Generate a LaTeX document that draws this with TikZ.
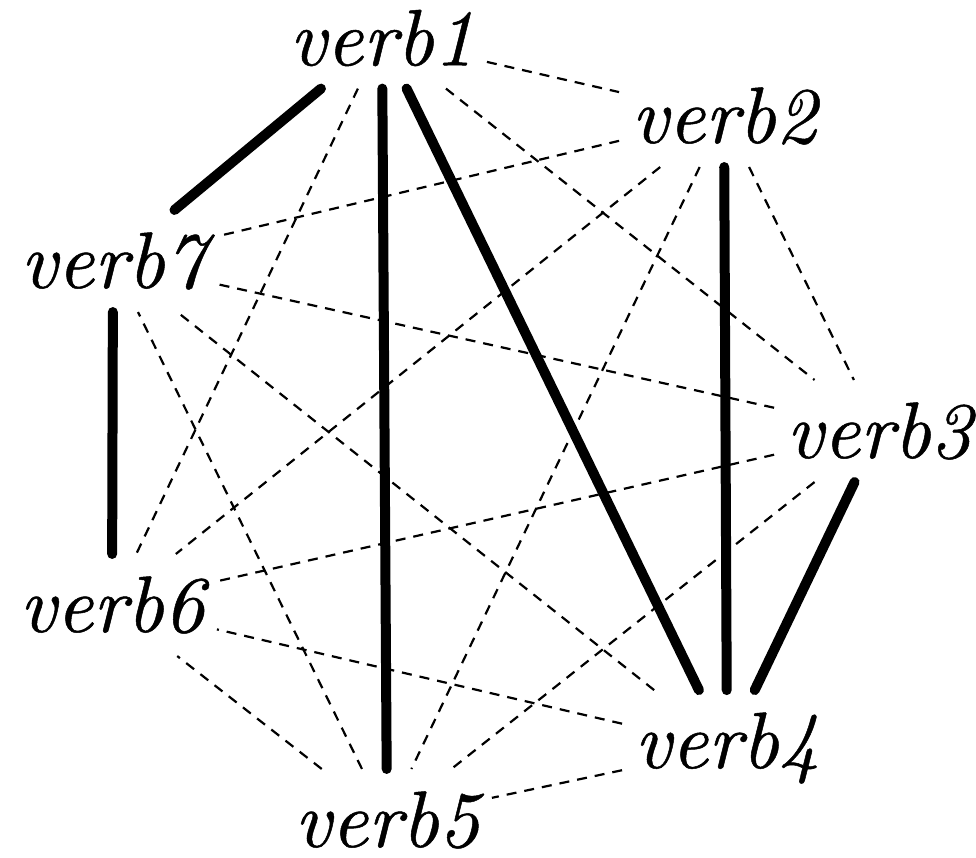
\documentclass[tikz,border=0pt]{standalone}
\usepackage{fontspec}
\newfontfamily\verbfont[FakeBold=0.6]{lmroman10-italic.otf}
\begin{document}
\begin{tikzpicture}[x=0.5pt,y=-0.5pt,
  verb/.style={inner xsep=6pt,inner ysep=11pt,font=\fontsize{40}{48}\selectfont\verbfont},
  strong/.style={line width=5pt,line cap=round},
  weak/.style={line width=1.1pt,dash pattern=on 5pt off 4pt}]
\useasboundingbox (0,0) rectangle (976,858);
\node[verb] (v1) at (382,38) {verb1};
\node[verb] (v2) at (724,116) {verb2};
\node[verb] (v3) at (879,431) {verb3};
\node[verb] (v4) at (727,748) {verb4};
\node[verb] (v5) at (387,820) {verb5};
\node[verb] (v6) at (112,605) {verb6};
\node[verb] (v7) at (113,261) {verb7};
% strong edges
\draw[strong] (v1) -- (v7);
\draw[strong] (v1) -- (v5);
\draw[strong] (v1) -- (v4);
\draw[strong] (v2) -- (v4);
\draw[strong] (v3) -- (v4);
\draw[strong] (v6) -- (v7);
% weak edges
\draw[weak] (v1) -- (v2);
\draw[weak] (v1) -- (v3);
\draw[weak] (v1) -- (v6);
\draw[weak] (v2) -- (v3);
\draw[weak] (v2) -- (v5);
\draw[weak] (v2) -- (v6);
\draw[weak] (v2) -- (v7);
\draw[weak] (v3) -- (v5);
\draw[weak] (v3) -- (v6);
\draw[weak] (v3) -- (v7);
\draw[weak] (v4) -- (v5);
\draw[weak] (v4) -- (v6);
\draw[weak] (v4) -- (v7);
\draw[weak] (v5) -- (v6);
\draw[weak] (v5) -- (v7);
\end{tikzpicture}
\end{document}
